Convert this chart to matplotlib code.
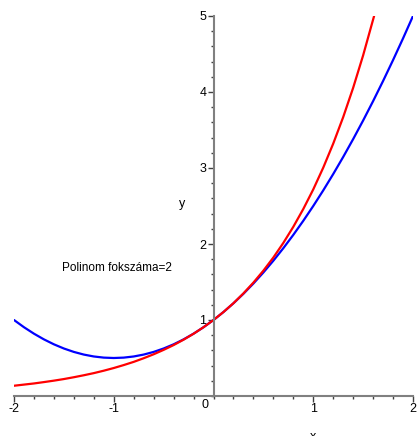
import matplotlib
matplotlib.use("Agg")
import matplotlib.pyplot as plt
from matplotlib.ticker import MultipleLocator

plt.rcParams['font.family'] = ['Liberation Sans', 'DejaVu Sans']

# exp(x) (stops at top of plot)
red_x = [-2.0, -1.9, -1.8, -1.7, -1.6, -1.5, -1.4, -1.3, -1.2, -1.1, -1.0,
         -0.9, -0.8, -0.7, -0.6, -0.5, -0.4, -0.3, -0.2, -0.1, 0.0,
         0.1, 0.2, 0.3, 0.4, 0.5, 0.6, 0.7, 0.8, 0.9, 1.0,
         1.1, 1.2, 1.3, 1.4, 1.5, 1.6, 1.61]
red_y = [0.135, 0.150, 0.165, 0.183, 0.202, 0.223, 0.247, 0.273, 0.301, 0.333, 0.368,
         0.407, 0.449, 0.497, 0.549, 0.607, 0.670, 0.741, 0.819, 0.905, 1.000,
         1.105, 1.221, 1.350, 1.492, 1.649, 1.822, 2.014, 2.226, 2.460, 2.718,
         3.004, 3.320, 3.669, 4.055, 4.482, 4.953, 5.0]

# degree-2 polynomial, blue curve
blue_x = [-2.0, -1.9, -1.8, -1.7, -1.6, -1.5, -1.4, -1.3, -1.2, -1.1, -1.0,
          -0.9, -0.8, -0.7, -0.6, -0.5, -0.4, -0.3, -0.2, -0.1, 0.0,
          0.1, 0.2, 0.3, 0.4, 0.5, 0.6, 0.7, 0.8, 0.9, 1.0,
          1.1, 1.2, 1.3, 1.4, 1.5, 1.6, 1.7, 1.8, 1.9, 2.0]
blue_y = [1.0, 0.905, 0.82, 0.745, 0.68, 0.625, 0.58, 0.545, 0.52, 0.505, 0.5,
          0.505, 0.52, 0.545, 0.58, 0.625, 0.68, 0.745, 0.82, 0.905, 1.0,
          1.105, 1.22, 1.345, 1.48, 1.625, 1.78, 1.945, 2.12, 2.305, 2.5,
          2.705, 2.92, 3.145, 3.38, 3.625, 3.88, 4.145, 4.42, 4.705, 5.0]

x_ticks = [-2, -1, 1, 2]
x_labels = ['-2', '-1', '1', '2']
y_ticks = [1, 2, 3, 4, 5]
y_labels = ['1', '2', '3', '4', '5']

fig = plt.figure(figsize=(4.17, 4.36), dpi=100)
ax = fig.add_axes([14 / 417, 40 / 436, 399 / 417, 380 / 436])

ax.plot(blue_x, blue_y, color='#0000ff', lw=1.6, solid_capstyle='round')
ax.plot(red_x, red_y, color='#ff0000', lw=1.6, solid_capstyle='round')

ax.set_xlim(-2, 2)
ax.set_ylim(0, 5)

axis_col = '#808080'
for s in ['top', 'right']:
    ax.spines[s].set_visible(False)
ax.spines['left'].set_position(('data', 0))
ax.spines['bottom'].set_position(('data', 0))
for s in ['left', 'bottom']:
    ax.spines[s].set_color(axis_col)
    ax.spines[s].set_linewidth(1.5)

ax.set_xticks(x_ticks, x_labels)
ax.set_yticks(y_ticks, y_labels)
ax.xaxis.set_minor_locator(MultipleLocator(0.2))
ax.yaxis.set_minor_locator(MultipleLocator(0.2))
ax.tick_params(which='major', length=4, width=1, color='#404040', labelsize=9, pad=1)
ax.tick_params(which='minor', length=2, width=1, color='#404040')
for lab in ax.get_xticklabels() + ax.get_yticklabels():
    lab.set_clip_on(False)

ax.text(-0.09, -0.04, '0', ha='center', va='top', fontsize=9)
ax.text(-0.31, 2.52, 'y', ha='center', va='center', fontsize=9)
ax.text(-1.52, 1.68, 'Polinom fokszáma=2', ha='left', va='center', fontsize=8.5)
fig.text(313 / 417, 1 - 431 / 436, 'x', ha='center', va='top', fontsize=9)

fig.savefig('out.png', dpi=100)
